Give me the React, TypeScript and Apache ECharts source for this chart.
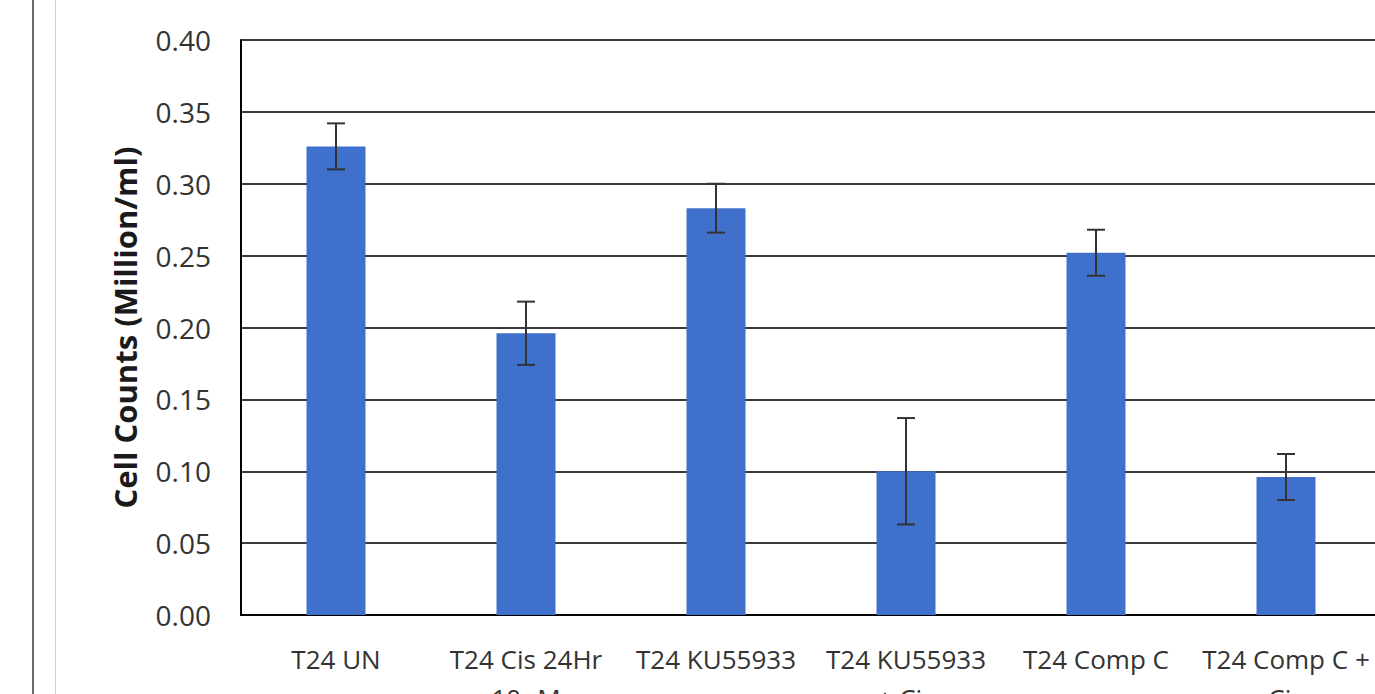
import React, { useEffect, useRef } from "react";
import * as echarts from "echarts";

const categories = [
  "T24 UN",
  "T24 Cis 24Hr\n10µM",
  "T24 KU55933",
  "T24 KU55933\n+ Cis",
  "T24 Comp C",
  "T24 Comp C +\nCis",
];
const means = [0.326, 0.196, 0.283, 0.1, 0.252, 0.096];
const errors = [0.016, 0.022, 0.017, 0.037, 0.016, 0.016];
const yTicks = { min: 0, max: 0.4, interval: 0.05 };

export default function App() {
  const ref = useRef<HTMLDivElement>(null);
  useEffect(() => {
    if (!ref.current) return;
    const chart = echarts.init(ref.current, null, { renderer: "svg" });
    const errData = means.map((m, i) => [i, m - errors[i], m + errors[i]]);
    chart.setOption({
      animation: false,
      backgroundColor: "#ffffff",
      graphic: [
        { type: "rect", left: 32, top: 0, shape: { width: 2, height: 694 }, style: { fill: "#6b6b6b" } },
        { type: "rect", left: 55, top: 0, shape: { width: 1, height: 694 }, style: { fill: "#d0d0d0" } },
      ],
      grid: { left: 241, right: 0, top: 40, bottom: 79, containLabel: false, outerBoundsMode: "none" },
      xAxis: {
        type: "category",
        data: categories,
        axisLine: { show: true, lineStyle: { color: "#000", width: 2 } },
        axisTick: { show: false },
        axisLabel: {
          interval: 0,
          fontFamily: "Open Sans",
          fontSize: 26,
          color: "#333",
          margin: 24,
          lineHeight: 39,
        },
      },
      yAxis: {
        type: "value",
        min: yTicks.min,
        max: yTicks.max,
        interval: yTicks.interval,
        name: "Cell Counts (Million/ml)",
        nameLocation: "middle",
        nameGap: 101,
        nameTextStyle: { fontFamily: "Open Sans", fontSize: 31, fontWeight: "bold", color: "#1a1a1a" },
        axisLine: { show: true, lineStyle: { color: "#000", width: 2 } },
        axisTick: { show: false },
        splitLine: { show: true, lineStyle: { color: "#3a3a3a", width: 2 } },
        axisLabel: {
          formatter: (v: number) => v.toFixed(2),
          fontFamily: "Open Sans",
          fontSize: 28,
          color: "#333",
          margin: 30,
        },
      },
      series: [
        {
          type: "bar",
          data: means,
          barWidth: 59,
          itemStyle: { color: "#3f70cc" },
        },
        {
          type: "custom",
          data: errData,
          z: 10,
          renderItem: (params: any, api: any) => {
            const x = api.value(0);
            const lo = api.coord([x, api.value(1)]);
            const hi = api.coord([x, api.value(2)]);
            const w = 9;
            const style = { stroke: "#333", lineWidth: 2 };
            return {
              type: "group",
              children: [
                { type: "line", shape: { x1: lo[0], y1: lo[1], x2: hi[0], y2: hi[1] }, style },
                { type: "line", shape: { x1: hi[0] - w, y1: hi[1], x2: hi[0] + w, y2: hi[1] }, style },
                { type: "line", shape: { x1: lo[0] - w, y1: lo[1], x2: lo[0] + w, y2: lo[1] }, style },
              ],
            };
          },
        },
      ],
    });
    return () => chart.dispose();
  }, []);
  return (
    <div style={{ position: "fixed", left: 0, top: 0, width: 1375, height: 694, overflow: "hidden", background: "#fff" }}>
      <div ref={ref} style={{ width: 1381, height: 694 }} />
    </div>
  );
}
